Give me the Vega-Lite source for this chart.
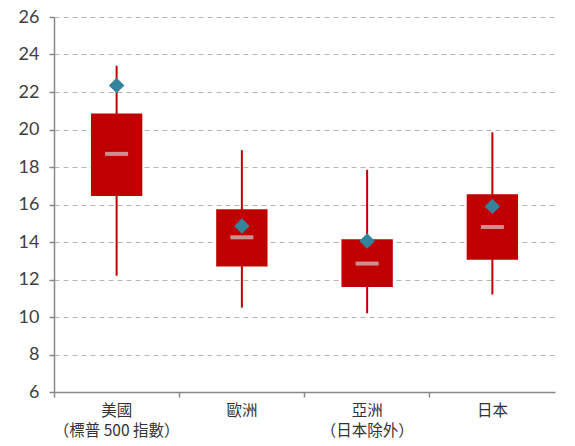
{
  "$schema": "https://vega.github.io/schema/vega-lite/v6.json",
  "width": 501,
  "height": 375,
  "autosize": {"type": "none"},
  "padding": {"left": 54, "top": 17, "right": 20, "bottom": 54},
  "background": "white",
  "config": {
    "view": {"stroke": null},
    "axisY": {
      "labelOverlap": false,
      "labelFont": "Lato",
      "labelFontSize": 18,
      "labelColor": "#404040",
      "labelPadding": 10,
      "domainColor": "#888888",
      "domainWidth": 1.5,
      "tickColor": "#888888",
      "tickSize": 5,
      "tickWidth": 1.5,
      "grid": true,
      "gridColor": "#b5b5b5",
      "gridDash": [5, 4],
      "gridWidth": 1
    }
  },
  "data": {
    "values": [
      {"region": "美國|（標普 500 指數）", "min": 12.2, "q1": 16.45, "median": 18.7, "q3": 20.85, "max": 23.4, "mean": 22.35},
      {"region": "歐洲", "min": 10.5, "q1": 12.7, "median": 14.25, "q3": 15.75, "max": 18.9, "mean": 14.85},
      {"region": "亞洲|（日本除外）", "min": 10.2, "q1": 11.6, "median": 12.85, "q3": 14.15, "max": 17.85, "mean": 14.05},
      {"region": "日本", "min": 11.2, "q1": 13.05, "median": 14.8, "q3": 16.55, "max": 19.85, "mean": 15.9}
    ]
  },
  "encoding": {
    "x": {
      "field": "region",
      "type": "nominal",
      "sort": null,
      "title": null,
      "scale": {"paddingInner": 0, "paddingOuter": 0},
      "axis": {
        "labelAngle": 0,
        "bandPosition": 0,
        "labelExpr": "split(datum.label, '|')",
        "labelFont": "Noto Sans CJK TC",
        "labelFontSize": 15.5,
        "labelLineHeight": 20,
        "labelColor": "#333333",
        "labelPadding": 6,
        "labelOverlap": false,
        "domainColor": "#888888",
        "domainWidth": 1.5,
        "tickColor": "#888888",
        "tickSize": 5,
        "tickWidth": 1.5,
        "grid": false
      }
    }
  },
  "layer": [
    {
      "mark": {"type": "rule", "color": "#c00000", "strokeWidth": 2},
      "encoding": {
        "y": {
          "field": "min",
          "type": "quantitative",
          "scale": {"domain": [6, 26], "nice": false},
          "title": null,
          "axis": {"values": [6, 8, 10, 12, 14, 16, 18, 20, 22, 24, 26], "tickCount": 11}
        },
        "y2": {"field": "max"}
      }
    },
    {
      "mark": {"type": "bar", "color": "#c00000", "width": {"band": 0.41}},
      "encoding": {
        "y": {"field": "q1", "type": "quantitative", "title": null, "axis": {"values": [6, 8, 10, 12, 14, 16, 18, 20, 22, 24, 26], "tickCount": 11}},
        "y2": {"field": "q3"}
      }
    },
    {
      "mark": {"type": "tick", "color": "#d3cdcd", "thickness": 4, "size": 23},
      "encoding": {
        "y": {"field": "median", "type": "quantitative", "title": null, "axis": {"values": [6, 8, 10, 12, 14, 16, 18, 20, 22, 24, 26], "tickCount": 11}}
      }
    },
    {
      "mark": {"type": "point", "shape": "diamond", "filled": true, "color": "#31849b", "opacity": 1, "size": 240},
      "encoding": {
        "y": {"field": "mean", "type": "quantitative", "title": null, "axis": {"values": [6, 8, 10, 12, 14, 16, 18, 20, 22, 24, 26], "tickCount": 11}}
      }
    }
  ]
}
